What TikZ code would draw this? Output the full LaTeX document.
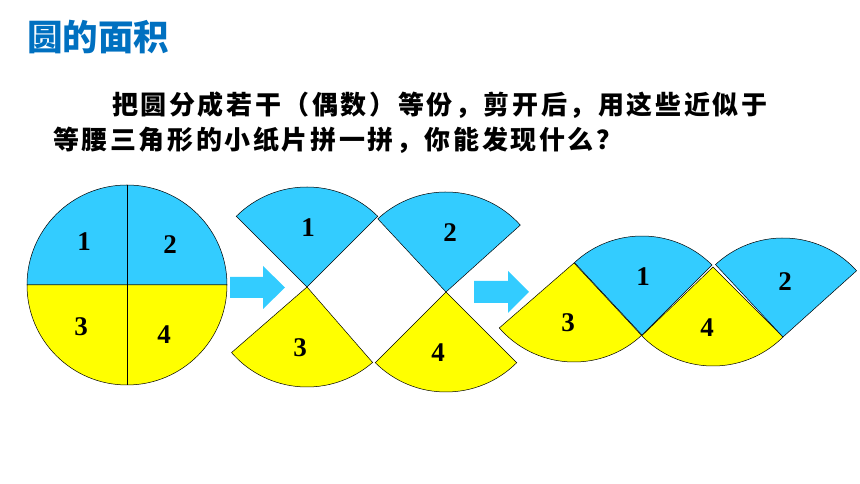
\documentclass[tikz,border=0pt]{standalone}
\usepackage{fontspec}
\setmainfont{Liberation Serif}
\newfontfamily\cjk[LetterSpace=10]{Noto Sans CJK SC}
\newfontfamily\cjktitle{Noto Sans CJK SC}
\usetikzlibrary{positioning}
\definecolor{skyblue}{HTML}{33CCFF}
\definecolor{lemon}{HTML}{FFFF00}
\definecolor{titleblue}{HTML}{0070C0}
% sector: fill, apex, start angle, end angle, radius
\newcommand{\piece}[5]{\filldraw[fill=#1, draw=black, line width=0.5pt] (#2) -- ++(#3:#5) arc[start angle=#3, end angle=#4, radius=#5] -- cycle;}
\newcommand{\numfont}{\fontsize{27}{30}\selectfont\bfseries}

\begin{document}
\begin{tikzpicture}[x=1pt, y=1pt]
	\useasboundingbox (0,0) rectangle (860,484);
	\node[anchor=west, inner sep=0, text=titleblue] (title) at (27,446.5) {\cjktitle\bfseries\fontsize{35.5}{38}\selectfont 圆的面积};
	\node[anchor=west, inner sep=0] (line1) at (112,379) {\cjk\bfseries\fontsize{26}{30}\selectfont 把圆分成若干（偶数）等份，剪开后，用这些近似于};
	\node[anchor=west, inner sep=0] (line2) at (53,344) {\cjk\bfseries\fontsize{26}{30}\selectfont 等腰三角形的小纸片拼一拼，你能发现什么？};
	% circle cut into four
	\coordinate (o) at (127,199);
	\piece{skyblue}{o}{0}{180}{100}
	\piece{lemon}{o}{180}{360}{100}
	\draw[line width=0.5pt] (o) ++(0,100) -- ++(0,-200);
	\node (c1) at (84,242) {\numfont 1};
	\node (c2) at (170,239) {\numfont 2};
	\node (c3) at (81,157) {\numfont 3};
	\node (c4) at (164,149) {\numfont 4};
	% first arrow
	\fill[skyblue] (230,207) -- (263,207) -- (263,218) -- (285,196.5) -- (263,175) -- (263,186) -- (230,186) -- cycle;
	% pieces cut apart
	\coordinate (m13) at (307,197);
	\coordinate (m24) at (446,192);
	\piece{skyblue}{m13}{45}{135}{100}
	\piece{lemon}{m13}{221}{311}{100}
	\piece{skyblue}{m24}{42}{133}{100}
	\piece{lemon}{m24}{225}{315}{100}
	\node (m1) at (308,256) {\numfont 1};
	\node (m2) at (450,251) {\numfont 2};
	\node (m3) at (300,136) {\numfont 3};
	\node (m4) at (438,131) {\numfont 4};
	% second arrow
	\fill[skyblue] (474,203) -- (508,203) -- (508,213) -- (529,192) -- (508,171) -- (508,181) -- (474,181) -- cycle;
	% pieces put together
	\coordinate (r3) at (574,221);
	\coordinate (r1) at (642,149);
	\coordinate (r4) at (713,217);
	\coordinate (r2) at (783,147);
	\piece{lemon}{r3}{221}{313}{99}
	\piece{skyblue}{r1}{45}{133}{99}
	\piece{lemon}{r4}{224}{315}{99}
	\piece{skyblue}{r2}{42}{133}{99}
	\node (n1) at (643,207) {\numfont 1};
	\node (n2) at (785,202) {\numfont 2};
	\node (n3) at (568,161) {\numfont 3};
	\node (n4) at (707,156) {\numfont 4};
\end{tikzpicture}
\end{document}
